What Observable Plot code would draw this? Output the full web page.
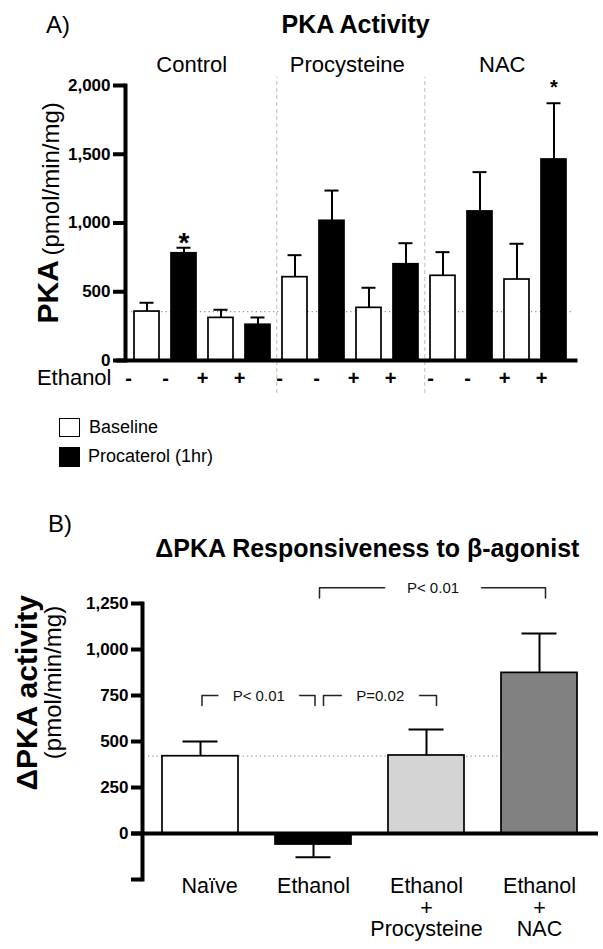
<!DOCTYPE html>
<html><head><meta charset="utf-8">
<script src="https://cdn.jsdelivr.net/npm/d3@7"></script>
<script src="https://cdn.jsdelivr.net/npm/@observablehq/plot@0.6"></script>
<style>
body{margin:0;background:#fff;}
#page{position:relative;width:603px;height:949px;overflow:hidden;font-family:"Liberation Sans",Arial,Helvetica,sans-serif;color:#000;background:#fff;}
.t{position:absolute;white-space:nowrap;line-height:1;}
.sq{position:absolute;box-sizing:border-box;border:1.7px solid #000;}
</style></head><body><div id="page">
<div id="chartA" style="position:absolute;left:0;top:0"></div>
<div id="chartB" style="position:absolute;left:0;top:560px"></div>
<div class="t" style="left:46px;top:12.7px;font-size:24px">A)</div>
<div class="t" style="left:355.7px;top:11.8px;font-size:25px;font-weight:bold;transform:translateX(-50%)">PKA Activity</div>
<div class="sq" style="left:59px;top:418px;width:21px;height:19px;background:#fff"></div>
<div class="sq" style="left:59px;top:447px;width:21px;height:20px;background:#000"></div>
<div class="t" style="left:89px;top:417.5px;font-size:18px">Baseline</div>
<div class="t" style="left:88px;top:447.1px;font-size:18px">Procaterol (1hr)</div>
<div class="t" style="left:48px;top:511.7px;font-size:24px">B)</div>
<div class="t" style="left:367.4px;top:535.8px;font-size:25px;font-weight:bold;transform:translateX(-50%)">ΔPKA Responsiveness to β-agonist</div>
</div>
<script>
// ---------- Data: panel A ----------
const groups = ["Control", "Procysteine", "NAC"];
const ethanolSigns = ["-", "-", "+", "+"];
const conditions = ["Baseline", "Procaterol (1hr)", "Baseline", "Procaterol (1hr)"];
const pkaMean = [356, 780, 310, 260, 606, 1016, 383, 700, 616, 1084, 589, 1462];
const pkaSEM  = [64, 40, 59, 53, 160, 220, 146, 153, 172, 286, 260, 409];
const pkaTicks = [0, 500, 1000, 1500, 2000];

// ---------- Data: panel B ----------
const bCats = ["Naïve", "Ethanol", "Ethanol\n+\nProcysteine", "Ethanol\n+\nNAC"];
const bMean = [420, -60, 424, 873];
const bSEM  = [80, 69, 141, 214];
const bTicks = [-250, 0, 250, 500, 750, 1000, 1250];
const bracketFrom  = ["Naïve", "Ethanol", "Ethanol"];
const bracketTo    = ["Ethanol", "Ethanol\n+\nProcysteine", "Ethanol\n+\nNAC"];
const bracketLevel = [750, 750, 1335];
const bracketText  = ["P< 0.01", "P=0.02", "P< 0.01"];

// ---------- styles ----------
const FONT = '"Liberation Sans", Arial, Helvetica, sans-serif';
const condFill = {"Baseline": "white", "Procaterol (1hr)": "black"};
const bFill = ["white", "black", "#d4d4d4", "#818181"];
const W = 603;

// ---------- Panel A ----------
const rows = [];
groups.forEach((g, gi) => {
  for (let j = 0; j < 4; j++) {
    const i = gi * 4 + j;
    rows.push({id: g + " " + j, group: g, sign: ethanolSigns[j], condition: conditions[j], mean: pkaMean[i], sem: pkaSEM[i]});
  }
});
const mA = {top: 85, right: 27.5, bottom: 40, left: 125};
const stepA = (W - mA.left - mA.right) / rows.length;
const groupLabelShift = [-11, -3.5, 3.5];
const signShift = [-18.5, -15.5, -12.3];

const groupMarks = [];
groups.forEach((g, gi) => {
  const gr = rows.filter(d => d.group === g);
  groupMarks.push(Plot.text([gr[1]], {x: "id", text: "group", frameAnchor: "top", dx: stepA / 2 + groupLabelShift[gi], dy: -29.3, fontSize: 22}));
  groupMarks.push(Plot.text(gr, {x: "id", text: "sign", frameAnchor: "bottom", dx: signShift[gi], dy: 24, fontSize: 20, fontWeight: "bold"}));
});

const chartA = Plot.plot({
  width: W, height: 400,
  marginTop: mA.top, marginRight: mA.right, marginBottom: mA.bottom, marginLeft: mA.left,
  style: {fontFamily: FONT, color: "black", background: "transparent", overflow: "visible"},
  x: {domain: rows.map(d => d.id), paddingInner: 0.33, paddingOuter: 0.165, axis: null},
  y: {domain: [0, 2000]},
  color: {type: "identity"},
  marks: [
    Plot.ruleX([rows[3].id, rows[7].id], {dx: stepA / 2, y1: -240, y2: 2060, stroke: "#bdbdbd", strokeWidth: 1, strokeDasharray: "4,3"}),
    Plot.ruleY([pkaMean[0]], {stroke: "#9a9a9a", strokeWidth: 1.3, strokeDasharray: "1.3,3", insetLeft: 6, insetRight: 4}),
    Plot.ruleX(rows, {x: "id", y1: "mean", y2: d => d.mean + d.sem, strokeWidth: 2}),
    Plot.tickY(rows, {x: "id", y: d => d.mean + d.sem, strokeWidth: 2, insetLeft: 5.5, insetRight: 5.5}),
    Plot.barY(rows, {x: "id", y: "mean", fill: d => condFill[d.condition], stroke: "black", strokeWidth: 1.7}),
    Plot.ruleY([0], {strokeWidth: 4, insetLeft: -9, insetRight: -2}),
    Plot.frame({anchor: "left", strokeWidth: 4}),
    Plot.axisY({ticks: pkaTicks, tickFormat: d3.format(","), tickSize: 12, tickPadding: 3, fontSize: 17, fontWeight: "bold", strokeWidth: 4, label: null}),
    ...groupMarks,
    Plot.text(["Ethanol"], {frameAnchor: "bottom-left", textAnchor: "end", dx: -14, dy: 24, fontSize: 22}),
    Plot.text([rows[1]], {x: "id", y: d => d.mean + d.sem, text: () => "*", lineAnchor: "bottom", dy: 4.7, fontSize: 28, fontWeight: "bold"}),
    Plot.text([rows[11]], {x: "id", y: d => d.mean + d.sem, text: () => "*", lineAnchor: "bottom", dy: -8.8, fontSize: 20, fontWeight: "bold"}),
    Plot.text(["PKA"], {frameAnchor: "bottom-left", rotate: -90, textAnchor: "start", lineAnchor: "bottom", dx: -68, dy: -37, fontSize: 30, fontWeight: "bold"}),
    Plot.text(["(pmol/min/mg)"], {frameAnchor: "bottom-left", rotate: -90, textAnchor: "start", lineAnchor: "bottom", dx: -67, dy: -105, fontSize: 24})
  ]
});
document.getElementById("chartA").appendChild(chartA);

// ---------- Panel B ----------
const bRows = bCats.map((c, i) => ({cat: c, mean: bMean[i], sem: bSEM[i], end: bMean[i] + Math.sign(bMean[i]) * bSEM[i], fill: bFill[i]}));
const mB = {top: 43, right: 7, bottom: 70, left: 142};
const stepB = (W - mB.left - mB.right) / bCats.length;
const drop = 55;
const bracketDx = [1.5, 10, 6];
const bracketTextDy = [1, 1, 0];
const bracketHalo = [31, 31, 46];
const bracketMarks = [];
bracketFrom.forEach((f, k) => {
  const t = bracketTo[k], L = bracketLevel[k];
  const pts = [{x: f, y: L - drop}, {x: f, y: L}, {x: t, y: L}, {x: t, y: L - drop}];
  bracketMarks.push(Plot.line(pts, {x: "x", y: "y", stroke: "#222", strokeWidth: 1.5, dx: bracketDx[k], curve: "linear"}));
  const span = bCats.indexOf(t) - bCats.indexOf(f);
  bracketMarks.push(Plot.text([{x: f, y: L, label: bracketText[k]}], {
    x: "x", y: "y", text: "label", dx: span * stepB / 2 + bracketDx[k], dy: bracketTextDy[k],
    fontSize: 15, fill: "#111", stroke: "white", strokeWidth: bracketHalo[k], strokeLinejoin: "round", paintOrder: "stroke"
  }));
});

const chartB = Plot.plot({
  width: W, height: 389,
  marginTop: mB.top, marginRight: mB.right, marginBottom: mB.bottom, marginLeft: mB.left,
  style: {fontFamily: FONT, color: "black", background: "transparent", overflow: "visible"},
  x: {domain: bCats, paddingInner: 0.33, paddingOuter: 0.165, axis: null},
  y: {domain: [-250, 1250]},
  color: {type: "identity"},
  marks: [
    Plot.ruleY([bMean[0]], {stroke: "#9a9a9a", strokeWidth: 1.3, strokeDasharray: "1.3,3", insetLeft: 6, insetRight: 20}),
    Plot.ruleX(bRows, {x: "cat", y1: "mean", y2: "end", strokeWidth: 2}),
    Plot.tickY(bRows, {x: "cat", y: "end", strokeWidth: 2, insetLeft: 20.5, insetRight: 20.5}),
    Plot.barY(bRows, {x: "cat", y: "mean", fill: "fill", stroke: "black", strokeWidth: 1.7}),
    Plot.ruleY([0], {strokeWidth: 4, insetLeft: -11, insetRight: -2}),
    Plot.frame({anchor: "left", strokeWidth: 4}),
    Plot.axisY({ticks: bTicks, tickFormat: d => d < 0 ? "" : d3.format(",")(d), tickSize: 11, tickPadding: 3, fontSize: 17, fontWeight: "bold", strokeWidth: 4, label: null}),
    ...bracketMarks,
    Plot.text(bCats.slice(0, 1), {x: d => d, text: d => d, frameAnchor: "bottom", lineAnchor: "top", dx: 9, dy: -1.6, fontSize: 21.5, lineHeight: 1}),
    Plot.text(bCats.slice(1), {x: d => d, text: d => d, frameAnchor: "bottom", lineAnchor: "top", dy: -1.6, fontSize: 21.5, lineHeight: 1}),
    Plot.text(["ΔPKA activity"], {frameAnchor: "bottom-left", rotate: -90, textAnchor: "start", lineAnchor: "bottom", dx: -106, dy: -89, fontSize: 30, fontWeight: "bold"}),
    Plot.text(["(pmol/min/mg)"], {frameAnchor: "bottom-left", rotate: -90, textAnchor: "middle", lineAnchor: "bottom", dx: -82, dy: -197, fontSize: 24})
  ]
});
document.getElementById("chartB").appendChild(chartB);
</script>
</body></html>
